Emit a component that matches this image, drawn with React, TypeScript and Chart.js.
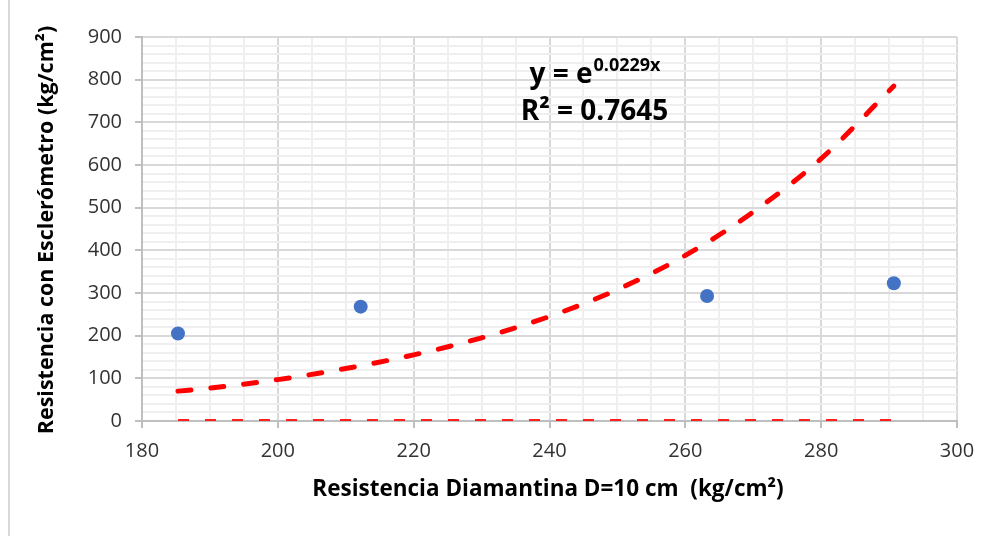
import React, { useEffect, useRef } from "react";
import { Chart, registerables } from "chart.js";

Chart.register(...registerables);

// Measured points
const xValues = [185.3, 212.2, 263.2, 290.7];
const yValues = [205, 268, 293, 323];

// Exponential trendline
const trendX = [185.3, 190, 200, 210, 220, 230, 240, 250, 260, 270, 280, 290.7];
const trendY = [70, 77, 97, 123, 155, 195, 245, 308, 388, 490, 615, 785];

// Second (flat) trendline along zero
const zeroX = [185.3, 290.7];
const zeroY = [0, 0];

const xMin = 180;
const xMax = 300;
const yMin = 0;
const yMax = 900;

const xTitle = "Resistencia Diamantina D=10 cm  (kg/cm²)";
const yTitle = "Resistencia con Esclerómetro (kg/cm²)";
const eqMain = "y = e";
const eqSup = "0.0229x";
const r2Text = "R² = 0.7645";

const FONT = "'Open Sans', sans-serif";

export default function App() {
  const ref = useRef<HTMLCanvasElement>(null);

  useEffect(() => {
    if (!ref.current) return;

    const overlay = {
      id: "overlay",
      beforeDraw(chart: any) {
        const ctx = chart.ctx;
        ctx.save();
        ctx.fillStyle = "#ffffff";
        ctx.fillRect(0, 0, chart.width, chart.height);
        ctx.fillStyle = "#d9d9d9";
        ctx.fillRect(8, 0, 2, chart.height);
        ctx.restore();
      },
      afterDraw(chart: any) {
        const ctx = chart.ctx;
        ctx.save();
        ctx.fillStyle = "#000000";
        ctx.textAlign = "center";
        ctx.textBaseline = "middle";
        ctx.font = `bold 22.5px ${FONT}`;
        ctx.fillText(xTitle, 548, 490);

        ctx.save();
        ctx.translate(47, 230);
        ctx.rotate(-Math.PI / 2);
        ctx.font = `bold 21.5px ${FONT}`;
        ctx.fillText(yTitle, 0, 0);
        ctx.restore();

        // equation
        ctx.textAlign = "left";
        ctx.textBaseline = "alphabetic";
        ctx.font = `bold 28px ${FONT}`;
        const w1 = ctx.measureText(eqMain).width;
        ctx.font = `bold 18px ${FONT}`;
        const w2 = ctx.measureText(eqSup).width;
        const cx = 594.5;
        const start = cx - (w1 + w2) / 2;
        ctx.font = `bold 28px ${FONT}`;
        ctx.fillText(eqMain, start, 83);
        ctx.font = `bold 18px ${FONT}`;
        ctx.fillText(eqSup, start + w1 + 1, 71);

        ctx.font = `bold 28px ${FONT}`;
        ctx.textAlign = "center";
        ctx.fillText(r2Text, cx, 120);
        ctx.restore();
      },
    };

    const points = xValues.map((x, i) => ({ x, y: yValues[i] }));
    const trend = trendX.map((x, i) => ({ x, y: trendY[i] }));
    const zero = zeroX.map((x, i) => ({ x, y: zeroY[i] }));

    const chart = new Chart(ref.current, {
      type: "scatter",
      data: {
        datasets: [
          {
            label: "Datos",
            data: points,
            backgroundColor: "#4472C4",
            borderColor: "#4472C4",
            pointRadius: 7,
            borderWidth: 0,
          },
          {
            label: "Tendencia",
            data: trend,
            showLine: true,
            borderColor: "#FF0000",
            borderWidth: 5,
            borderDash: [13, 20],
            borderCapStyle: "round",
            pointRadius: 0,
            cubicInterpolationMode: "monotone",
          } as any,
          {
            label: "Cero",
            data: zero,
            showLine: true,
            borderColor: "#FF2020",
            borderWidth: 4,
            borderDash: [11, 16],
            pointRadius: 0,
            clip: 0,
          } as any,
        ],
      },
      options: {
        responsive: false,
        animation: false,
        layout: { padding: { left: 0, right: 43, top: 37, bottom: 0 } },
        plugins: { legend: { display: false }, tooltip: { enabled: false } },
        scales: {
          x: {
            type: "linear",
            min: xMin,
            max: xMax,
            ticks: {
              stepSize: 5,
              maxTicksLimit: 100,
              autoSkip: false,
              maxRotation: 0,
              padding: 11,
              color: "#333333",
              font: { family: FONT, size: 20 },
              callback: (v: any) => (Number(v) % 20 === 0 ? String(v) : ""),
            },
            grid: {
              lineWidth: 2,
              tickLength: 7,
              color: (c: any) => (c.tick && c.tick.value % 20 === 0 ? "#d9d9d9" : "#efefef"),
              tickColor: (c: any) => (c.tick && c.tick.value % 20 === 0 ? "#bfbfbf" : "rgba(0,0,0,0)"),
            },
            border: { color: "#bfbfbf", width: 2 },
            afterFit: (s: any) => {
              s.height = 115;
            },
          },
          y: {
            type: "linear",
            min: yMin,
            max: yMax,
            ticks: {
              stepSize: 20,
              maxTicksLimit: 100,
              autoSkip: false,
              padding: 13,
              color: "#333333",
              font: { family: FONT, size: 20 },
              callback: (v: any) => (Number(v) % 100 === 0 ? String(v) : ""),
            },
            grid: {
              lineWidth: 2,
              tickLength: 7,
              color: (c: any) => (c.tick && c.tick.value % 100 === 0 ? "#d9d9d9" : "#efefef"),
              tickColor: (c: any) => (c.tick && c.tick.value % 100 === 0 ? "#bfbfbf" : "rgba(0,0,0,0)"),
            },
            border: { color: "#bfbfbf", width: 2 },
            afterFit: (s: any) => {
              s.width = 142;
            },
          },
        },
      },
      plugins: [overlay],
    } as any);

    return () => chart.destroy();
  }, []);

  return (
    <div style={{ position: "absolute", left: 0, top: 0, width: 1000, height: 536 }}>
      <canvas ref={ref} width={1000} height={536} style={{ display: "block" }} />
    </div>
  );
}
